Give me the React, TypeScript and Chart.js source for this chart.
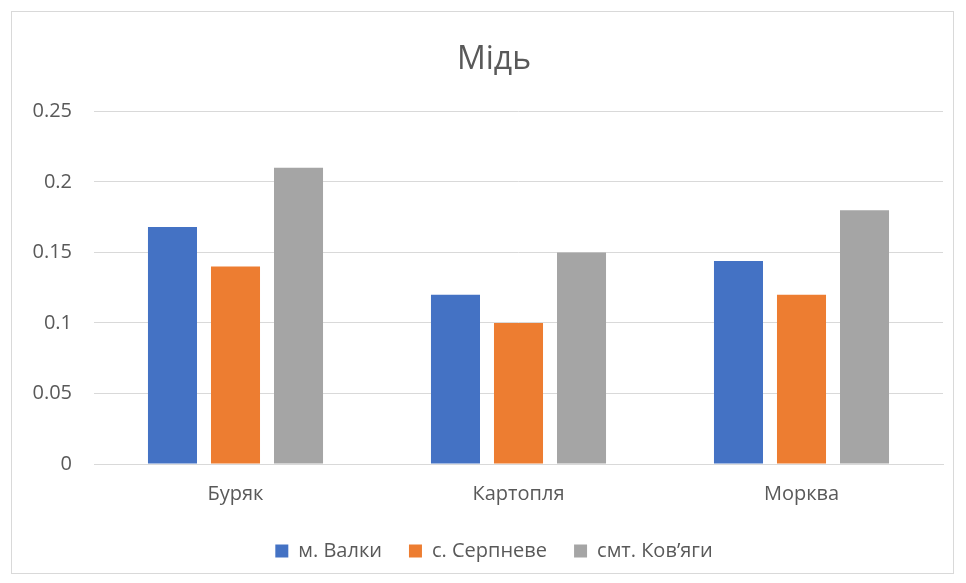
import React, { useEffect, useRef } from "react";
import { Chart, registerables } from "chart.js";

Chart.register(...registerables);

const categories = ["Буряк", "Картопля", "Морква"];
const seriesNames = ["м. Валки", "с. Серпневе", "смт. Ков’яги"];
const valki = [0.168, 0.12, 0.144];
const serpneve = [0.14, 0.1, 0.12];
const kovyagy = [0.21, 0.15, 0.18];
const colors = ["#4472C4", "#ED7D31", "#A5A5A5"];
const titleText = "Мідь";

const FONT = "'Open Sans', sans-serif";
const TEXT = "#595959";
const GRID = "#D9D9D9";
const CENTER_SHIFT = 17;

const borderPlugin = {
  id: "outerBorder",
  afterLayout(chart: any) {
    const blocks = [chart.titleBlock, chart.legend];
    for (const b of blocks) {
      if (b) {
        b.left += CENTER_SHIFT;
        b.right += CENTER_SHIFT;
      }
    }
  },
  beforeDraw(chart: any) {
    const ctx = chart.ctx;
    ctx.save();
    ctx.fillStyle = "#ffffff";
    ctx.fillRect(0, 0, chart.width, chart.height);
    ctx.strokeStyle = GRID;
    ctx.lineWidth = 1;
    ctx.strokeRect(11.5, 11.5, 942, 562);
    ctx.restore();
  },
};

export default function App() {
  const ref = useRef<HTMLCanvasElement | null>(null);
  useEffect(() => {
    if (!ref.current) return;
    const data = [valki, serpneve, kovyagy];
    const chart = new Chart(ref.current, {
      type: "bar",
      data: {
        labels: categories,
        datasets: seriesNames.map((name, i) => ({
          label: name,
          data: data[i],
          backgroundColor: colors[i],
          borderWidth: 0,
          categoryPercentage: 0.668,
          barPercentage: 0.778,
        })),
      },
      options: {
        animation: false,
        responsive: false,
        devicePixelRatio: 1,
        layout: { padding: { top: 0, left: 11, right: 23, bottom: 12 } },
        plugins: {
          title: {
            display: true,
            text: titleText,
            color: TEXT,
            font: { family: FONT, size: 32, weight: "normal" },
            padding: { top: 41, bottom: 32 },
          },
          legend: {
            position: "bottom",
            labels: {
              color: TEXT,
              font: { family: FONT, size: 20 },
              boxWidth: 13,
              boxHeight: 13,
              padding: 27,
            },
          },
          tooltip: { enabled: false },
        },
        scales: {
          x: {
            afterFit(scale: any) {
              scale.height = 50;
            },
            grid: { display: false, drawTicks: false },
            border: { display: true, color: GRID, width: 1 },
            ticks: {
              color: TEXT,
              font: { family: FONT, size: 20 },
              padding: 18,
            },
          },
          y: {
            min: 0,
            max: 0.25,
            afterFit(scale: any) {
              scale.width = 83;
            },
            grid: { color: GRID, lineWidth: 1, drawTicks: false },
            border: { display: false },
            ticks: {
              stepSize: 0.05,
              color: TEXT,
              font: { family: FONT, size: 20 },
              padding: 22,
              callback: (v: any) => String(Math.round(Number(v) * 100) / 100),
            },
          },
        },
      },
      plugins: [borderPlugin],
    });
    return () => chart.destroy();
  }, []);
  return (
    <div style={{ position: "absolute", left: 0, top: 0, width: 966, height: 583 }}>
      <canvas ref={ref} width={966} height={583} />
    </div>
  );
}
